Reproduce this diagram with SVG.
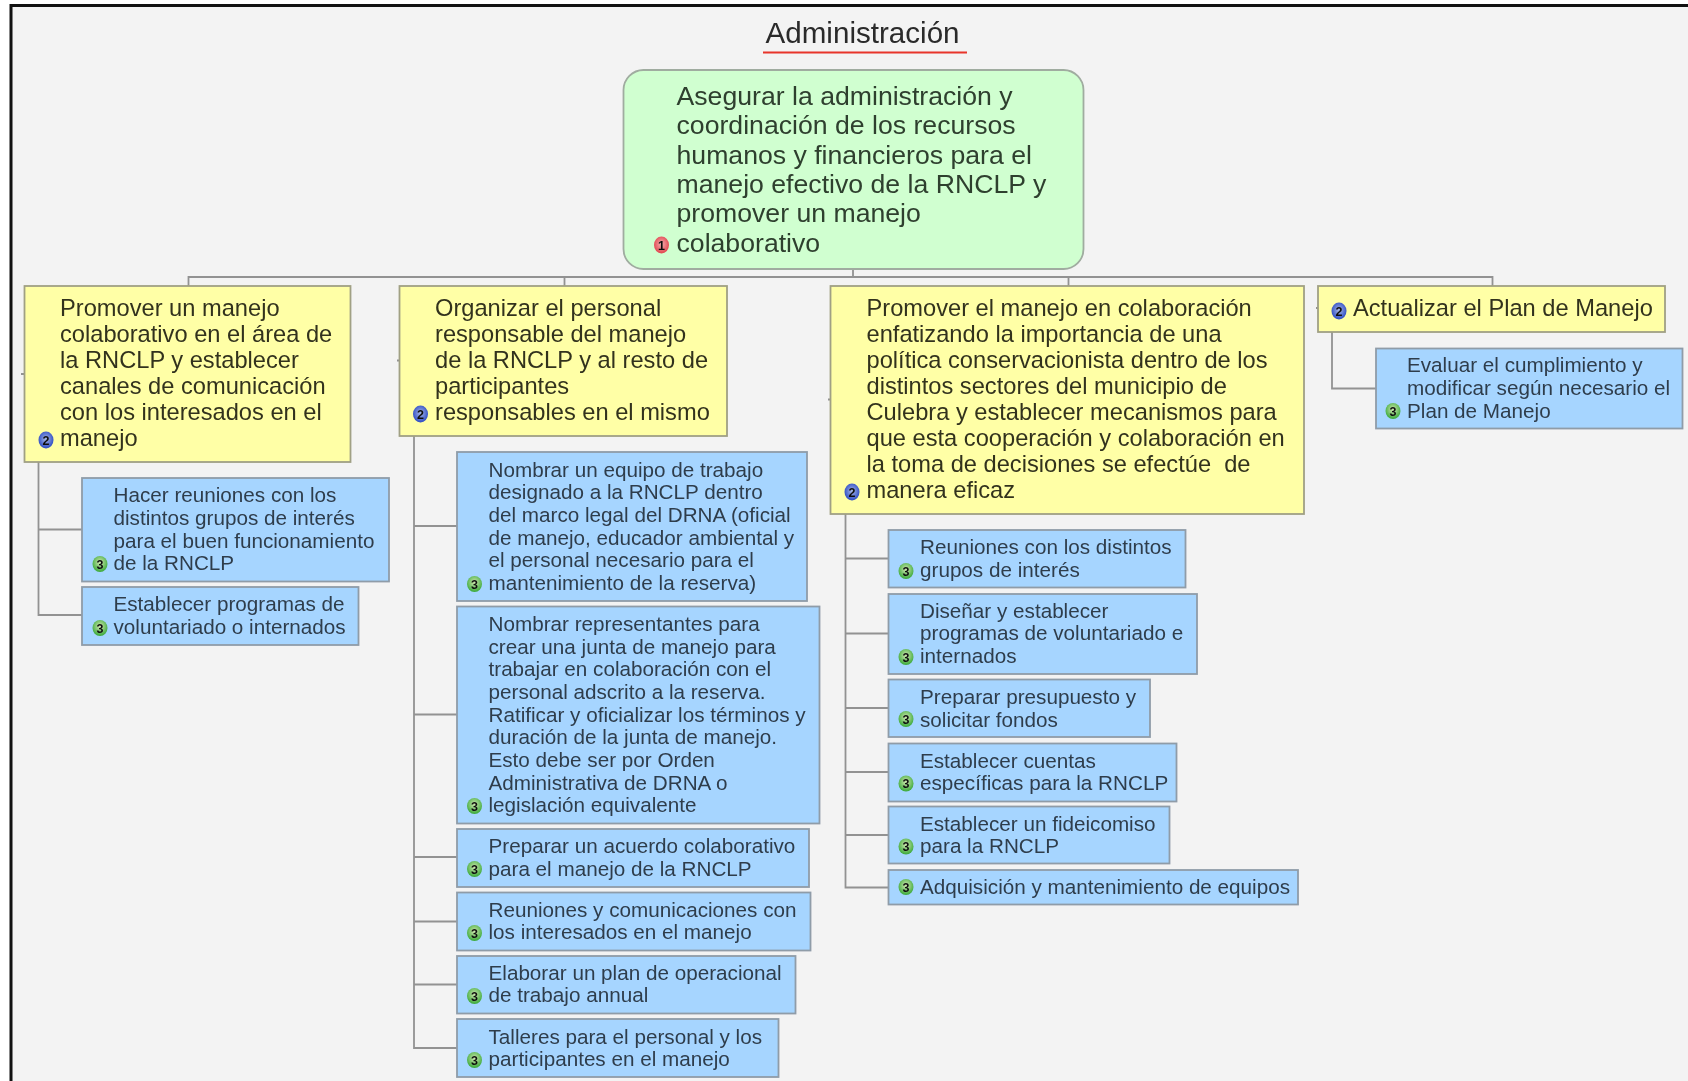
<svg xmlns="http://www.w3.org/2000/svg" width="1688" height="1081" viewBox="0 0 1688 1081">
<style>
text{font-family:"Liberation Sans",Arial,sans-serif}
.t0{font-size:29.6px;fill:#2a2a2a}
.t1{font-size:26.65px;fill:#2f3f2f}
.t2{font-size:23.66px;fill:#33331f}
.t3{font-size:20.68px;fill:#2f3d4c}
.root{fill:#d0ffd0;stroke:#a0aca0;stroke-width:1.800}
.y{fill:#ffffa6;stroke:#a0a084;stroke-width:1.800}
.b{fill:#a6d5ff;stroke:#8f9ca8;stroke-width:1.800}
.conn{fill:none;stroke:#929292;stroke-width:1.800}
.n{font-size:12.500px;font-weight:bold;fill:#111;text-anchor:middle}
.sharp{filter:url(#soft)}
</style>
<defs>
<radialGradient id="g1" cx="0.5" cy="0.45" r="0.6"><stop offset="0" stop-color="#f4b0b0"/><stop offset="1" stop-color="#e03a44"/></radialGradient>
<radialGradient id="g2" cx="0.5" cy="0.45" r="0.6"><stop offset="0" stop-color="#a8b8e8"/><stop offset="1" stop-color="#2040c0"/></radialGradient>
<radialGradient id="g3" cx="0.5" cy="0.4" r="0.6"><stop offset="0" stop-color="#d0e8b0"/><stop offset="1" stop-color="#38a838"/></radialGradient>
<filter id="soft" x="-2%" y="-2%" width="104%" height="104%"><feGaussianBlur stdDeviation="0.55"/></filter>
</defs>
<rect width="1688" height="1081" fill="#fff"/>
<rect x="11" y="6" width="1677" height="1075" fill="#f3f3f3"/>
<path d="M11 1081V5.500H1688" fill="none" stroke="#111" stroke-width="3"/>
<g class="sharp">
<g id="connectors">
<path class="conn" d="M853 269V277M188.500 286V277H1492.500V286M564.500 277V286M1068.500 277V286"/>
<path class="conn" d="M21 374H24M397 360.500H399M828 399.500H830.500M1316 308H1318"/>
<path class="conn" d="M38.500 462V615H82M38.500 529.500H82"/>
<path class="conn" d="M414 436V1048H457M414 526H457M414 714.500H457M414 857H457M414 921.500H457M414 984.500H457"/>
<path class="conn" d="M845.500 514V887.500H888M845.500 558.500H888M845.500 633.500H888M845.500 708H888M845.500 772H888M845.500 835H888"/>
<path class="conn" d="M1332 332V388.500H1376"/>
</g>
<g id="title">
<text class="t0" x="765.500" y="42.500">Administración</text>
<path d="M763 52.500H967" stroke="#e8342a" stroke-width="2" fill="none"/>
</g>
<g id="root">
<rect class="root" x="623.500" y="70" width="460" height="199" rx="20"/>
<text class="t1" x="676.500" y="105">Asegurar la administración y</text>
<text class="t1" x="676.500" y="134.300">coordinación de los recursos</text>
<text class="t1" x="676.500" y="163.600">humanos y financieros para el</text>
<text class="t1" x="676.500" y="192.900">manejo efectivo de la RNCLP y</text>
<text class="t1" x="676.500" y="222.200">promover un manejo</text>
<text class="t1" x="676.500" y="251.500">colaborativo</text>
<ellipse cx="661.500" cy="245" rx="7.500" ry="8.500" fill="url(#g1)"/><text class="n" x="661.500" y="249.500">1</text>
</g>
<g id="a">
<rect class="y" x="24.500" y="286" width="326" height="176"/>
<text class="t2" x="60" y="316">Promover un manejo</text>
<text class="t2" x="60" y="342">colaborativo en el área de</text>
<text class="t2" x="60" y="368">la RNCLP y establecer</text>
<text class="t2" x="60" y="394">canales de comunicación</text>
<text class="t2" x="60" y="420">con los interesados en el</text>
<text class="t2" x="60" y="446">manejo</text>
<ellipse cx="46" cy="440" rx="7.500" ry="8.500" fill="url(#g2)"/><text class="n" x="46" y="444.500">2</text>
</g>
<g id="b">
<rect class="y" x="399.500" y="286" width="327.500" height="150"/>
<text class="t2" x="435" y="316">Organizar el personal</text>
<text class="t2" x="435" y="342">responsable del manejo</text>
<text class="t2" x="435" y="368">de la RNCLP y al resto de</text>
<text class="t2" x="435" y="394">participantes</text>
<text class="t2" x="435" y="420">responsables en el mismo</text>
<ellipse cx="420.500" cy="414" rx="7.500" ry="8.500" fill="url(#g2)"/><text class="n" x="420.500" y="418.500">2</text>
</g>
<g id="c">
<rect class="y" x="830.500" y="286" width="473.500" height="228"/>
<text class="t2" x="866.500" y="316">Promover el manejo en colaboración</text>
<text class="t2" x="866.500" y="342">enfatizando la importancia de una</text>
<text class="t2" x="866.500" y="368">política conservacionista dentro de los</text>
<text class="t2" x="866.500" y="394">distintos sectores del municipio de</text>
<text class="t2" x="866.500" y="420">Culebra y establecer mecanismos para</text>
<text class="t2" x="866.500" y="446">que esta cooperación y colaboración en</text>
<text class="t2" x="866.500" y="472" xml:space="preserve">la toma de decisiones se efectúe  de</text>
<text class="t2" x="866.500" y="498">manera eficaz</text>
<ellipse cx="852" cy="492" rx="7.500" ry="8.500" fill="url(#g2)"/><text class="n" x="852" y="496.500">2</text>
</g>
<g id="d">
<rect class="y" x="1318" y="286" width="347" height="46"/>
<text class="t2" x="1353" y="316">Actualizar el Plan de Manejo</text>
<ellipse cx="1339" cy="311" rx="7.500" ry="8.500" fill="url(#g2)"/><text class="n" x="1339" y="315.500">2</text>
</g>
<g id="a1">
<rect class="b" x="82" y="478" width="307" height="103.500"/>
<text class="t3" x="113.500" y="502">Hacer reuniones con los</text>
<text class="t3" x="113.500" y="525">distintos grupos de interés</text>
<text class="t3" x="113.500" y="547.500">para el buen funcionamiento</text>
<text class="t3" x="113.500" y="570">de la RNCLP</text>
<ellipse cx="100" cy="564" rx="7.500" ry="8" fill="url(#g3)"/><text class="n" x="100" y="568.500">3</text>
</g>
<g id="a2">
<rect class="b" x="82" y="587" width="276.500" height="58"/>
<text class="t3" x="113.500" y="611">Establecer programas de</text>
<text class="t3" x="113.500" y="634">voluntariado o internados</text>
<ellipse cx="100" cy="628" rx="7.500" ry="8" fill="url(#g3)"/><text class="n" x="100" y="632.500">3</text>
</g>
<g id="b1">
<rect class="b" x="457" y="452" width="350" height="149"/>
<text class="t3" x="488.500" y="476.500">Nombrar un equipo de trabajo</text>
<text class="t3" x="488.500" y="499">designado a la RNCLP dentro</text>
<text class="t3" x="488.500" y="522">del marco legal del DRNA (oficial</text>
<text class="t3" x="488.500" y="544.500">de manejo, educador ambiental y</text>
<text class="t3" x="488.500" y="567">el personal necesario para el</text>
<text class="t3" x="488.500" y="590">mantenimiento de la reserva)</text>
<ellipse cx="474.500" cy="584" rx="7.500" ry="8" fill="url(#g3)"/><text class="n" x="474.500" y="588.500">3</text>
</g>
<g id="b2">
<rect class="b" x="457" y="606.500" width="362.500" height="217"/>
<text class="t3" x="488.500" y="631">Nombrar representantes para</text>
<text class="t3" x="488.500" y="653.700">crear una junta de manejo para</text>
<text class="t3" x="488.500" y="676.300">trabajar en colaboración con el</text>
<text class="t3" x="488.500" y="699">personal adscrito a la reserva.</text>
<text class="t3" x="488.500" y="721.600">Ratificar y oficializar los términos y</text>
<text class="t3" x="488.500" y="744.300">duración de la junta de manejo.</text>
<text class="t3" x="488.500" y="767">Esto debe ser por Orden</text>
<text class="t3" x="488.500" y="789.600">Administrativa de DRNA o</text>
<text class="t3" x="488.500" y="812">legislación equivalente</text>
<ellipse cx="474.500" cy="806" rx="7.500" ry="8" fill="url(#g3)"/><text class="n" x="474.500" y="810.500">3</text>
</g>
<g id="b3">
<rect class="b" x="457" y="829" width="352" height="58"/>
<text class="t3" x="488.500" y="853.300">Preparar un acuerdo colaborativo</text>
<text class="t3" x="488.500" y="875.800">para el manejo de la RNCLP</text>
<ellipse cx="474.500" cy="869" rx="7.500" ry="8" fill="url(#g3)"/><text class="n" x="474.500" y="873.500">3</text>
</g>
<g id="b4">
<rect class="b" x="457" y="892.500" width="353.500" height="58"/>
<text class="t3" x="488.500" y="916.800">Reuniones y comunicaciones con</text>
<text class="t3" x="488.500" y="939.200">los interesados en el manejo</text>
<ellipse cx="474.500" cy="933" rx="7.500" ry="8" fill="url(#g3)"/><text class="n" x="474.500" y="937.500">3</text>
</g>
<g id="b5">
<rect class="b" x="457" y="956" width="338.500" height="57.500"/>
<text class="t3" x="488.500" y="980">Elaborar un plan de operacional</text>
<text class="t3" x="488.500" y="1002.400">de trabajo annual</text>
<ellipse cx="474.500" cy="996" rx="7.500" ry="8" fill="url(#g3)"/><text class="n" x="474.500" y="1000.500">3</text>
</g>
<g id="b6">
<rect class="b" x="457" y="1019" width="321.500" height="58"/>
<text class="t3" x="488.500" y="1043.800">Talleres para el personal y los</text>
<text class="t3" x="488.500" y="1066.200">participantes en el manejo</text>
<ellipse cx="474.500" cy="1060" rx="7.500" ry="8" fill="url(#g3)"/><text class="n" x="474.500" y="1064.500">3</text>
</g>
<g id="c1">
<rect class="b" x="888.500" y="530" width="297" height="57.500"/>
<text class="t3" x="920" y="554">Reuniones con los distintos</text>
<text class="t3" x="920" y="577">grupos de interés</text>
<ellipse cx="906" cy="571" rx="7.500" ry="8" fill="url(#g3)"/><text class="n" x="906" y="575.500">3</text>
</g>
<g id="c2">
<rect class="b" x="888.500" y="594" width="308.500" height="80"/>
<text class="t3" x="920" y="617.700">Diseñar y establecer</text>
<text class="t3" x="920" y="640.300">programas de voluntariado e</text>
<text class="t3" x="920" y="663">internados</text>
<ellipse cx="906" cy="657" rx="7.500" ry="8" fill="url(#g3)"/><text class="n" x="906" y="661.500">3</text>
</g>
<g id="c3">
<rect class="b" x="888.500" y="679.500" width="261.500" height="57.500"/>
<text class="t3" x="920" y="704">Preparar presupuesto y</text>
<text class="t3" x="920" y="726.700">solicitar fondos</text>
<ellipse cx="906" cy="719" rx="7.500" ry="8" fill="url(#g3)"/><text class="n" x="906" y="723.500">3</text>
</g>
<g id="c4">
<rect class="b" x="888.500" y="743.500" width="288" height="58"/>
<text class="t3" x="920" y="767.700">Establecer cuentas</text>
<text class="t3" x="920" y="790.300">específicas para la RNCLP</text>
<ellipse cx="906" cy="783.500" rx="7.500" ry="8" fill="url(#g3)"/><text class="n" x="906" y="788">3</text>
</g>
<g id="c5">
<rect class="b" x="888.500" y="806.500" width="281" height="57"/>
<text class="t3" x="920" y="830.700">Establecer un fideicomiso</text>
<text class="t3" x="920" y="853.300">para la RNCLP</text>
<ellipse cx="906" cy="846.500" rx="7.500" ry="8" fill="url(#g3)"/><text class="n" x="906" y="851">3</text>
</g>
<g id="c6">
<rect class="b" x="888.500" y="870" width="409.500" height="34.500"/>
<text class="t3" x="920" y="894">Adquisición y mantenimiento de equipos</text>
<ellipse cx="906" cy="887" rx="7.500" ry="8" fill="url(#g3)"/><text class="n" x="906" y="891.500">3</text>
</g>
<g id="d1">
<rect class="b" x="1376" y="348.500" width="306.500" height="80"/>
<text class="t3" x="1407" y="372">Evaluar el cumplimiento y</text>
<text class="t3" x="1407" y="395">modificar según necesario el</text>
<text class="t3" x="1407" y="417.700">Plan de Manejo</text>
<ellipse cx="1393" cy="411" rx="7.500" ry="8" fill="url(#g3)"/><text class="n" x="1393" y="415.500">3</text>
</g>
</g>
</svg>
